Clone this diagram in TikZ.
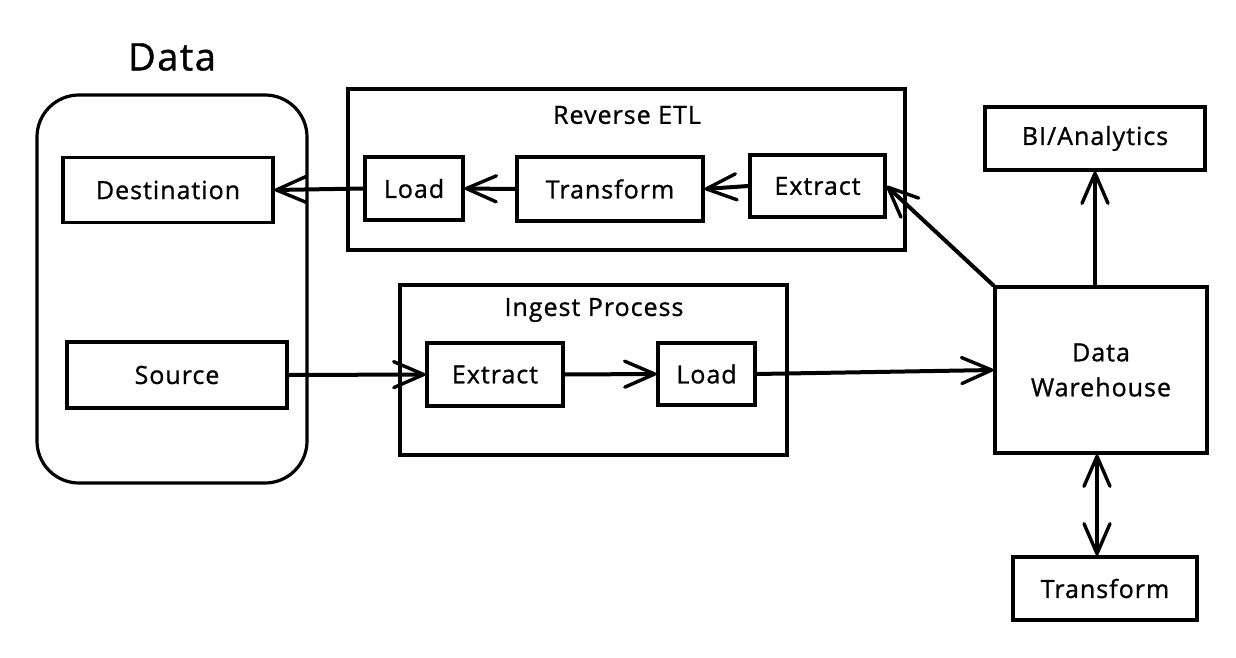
\documentclass[tikz,border=0pt]{standalone}
\usepackage{fontspec}
\setmainfont{Open Sans}[LetterSpace=4, FakeBold=1]
\usetikzlibrary{arrows.meta}
\tikzset{
  box/.style={draw, line width=3.2pt, inner sep=0pt, font=\fontsize{25}{29}\selectfont, align=center},
  group/.style={draw, line width=3.2pt, inner sep=0pt},
  lbl/.style={inner sep=0pt, font=\fontsize{25}{29}\selectfont},
  arr/.style={line width=4pt, line cap=round, -{Straight Barb[length=30pt,width=26pt,line width=3.4pt,round]}},
  biarr/.style={line width=4pt, line cap=round, {Straight Barb[length=30pt,width=26pt,line width=3.4pt,round]}-{Straight Barb[length=30pt,width=26pt,line width=3.4pt,round]}}
}
\begin{document}
\begin{tikzpicture}[x=1pt,y=-1pt]
\useasboundingbox[fill=white] (0,0) rectangle (1236,658);
% title
\node[inner sep=0pt, font=\fontsize{38}{42}\selectfont] (title) at (172,57) {Data};
% Data container
\node[group, rounded corners=42pt, minimum width=270pt, minimum height=388pt] (datac) at (172,289) {};
\node[box, minimum width=210pt, minimum height=65pt] (dest) at (168,190) {Destination};
\node[box, minimum width=220pt, minimum height=66pt] (src) at (177,375) {Source};
% Reverse ETL
\node[group, minimum width=557pt, minimum height=161pt] (retl) at (626.5,169.5) {};
\node[lbl] (retllbl) at (627,115) {Reverse ETL};
\node[box, minimum width=98pt, minimum height=63pt] (rload) at (414,188.5) {Load};
\node[box, minimum width=186pt, minimum height=64pt] (rtrans) at (610,189) {Transform};
\node[box, minimum width=135pt, minimum height=62pt] (rext) at (817.5,186) {Extract};
% Ingest
\node[group, minimum width=387pt, minimum height=170pt] (ing) at (593.5,370) {};
\node[lbl] (inglbl) at (594,310) {Ingest Process};
\node[box, minimum width=136pt, minimum height=63pt] (iext) at (495,374.5) {Extract};
\node[box, minimum width=97pt, minimum height=62pt] (iload) at (706.5,374) {Load};
% right side
\node[box, minimum width=212pt, minimum height=166pt] (dw) at (1101,370) {Data\\[6pt]Warehouse};
\node[box, minimum width=220pt, minimum height=63pt] (bi) at (1095,138.5) {BI/Analytics};
\node[box, minimum width=184pt, minimum height=63pt] (tr) at (1105,588.5) {Transform};
% connectors
\draw[arr] (rload.west) -- (dest.east);
\draw[arr] (rtrans.west) -- (rload.east);
\draw[arr] (rext.west) -- (rtrans.east);
\draw[arr] (dw.north west) -- (rext.east);
\draw[arr] (src.east) -- (iext.west);
\draw[arr] (iext.east) -- (iload.west);
\draw[arr] (iload.east) -- (dw.west);
\draw[arr] (dw.north -| bi.south) -- (bi.south);
\draw[biarr] (dw.south -| 1097,0) -- (tr.north -| 1097,0);
\end{tikzpicture}
\end{document}
